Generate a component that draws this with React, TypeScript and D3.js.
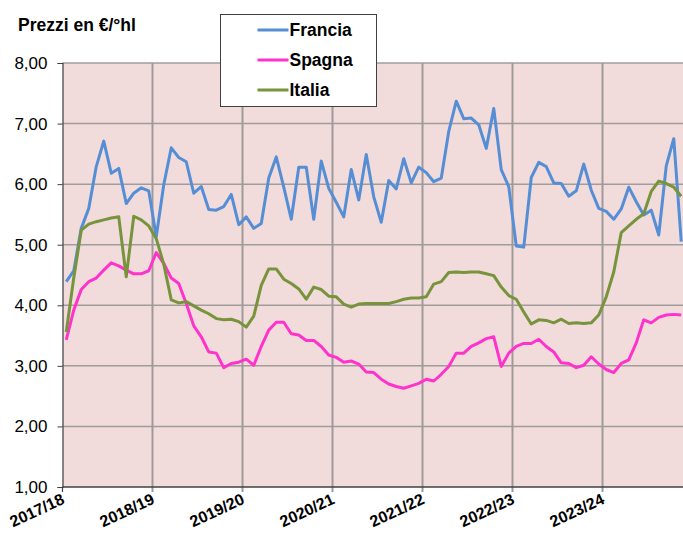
// @ts-nocheck
import React, { useEffect, useRef } from 'react';
import * as d3 from 'd3';

// stagioni (etichette asse x), 12 mesi ciascuna
const seasons = ['2017/18', '2018/19', '2019/20', '2020/21', '2021/22', '2022/23', '2023/24'];
const yTicks = [1, 2, 3, 4, 5, 6, 7, 8];

// prezzi mensili in €/°hl
const francia = [
  4.39, 4.57, 5.27, 5.6, 6.29, 6.71, 6.18, 6.26, 5.68, 5.85, 5.94, 5.89,
  5.13, 5.99, 6.6, 6.44, 6.37, 5.85, 5.96, 5.58, 5.57, 5.63, 5.83, 5.33,
  5.46, 5.27, 5.35, 6.1, 6.45, 5.95, 5.42, 6.28, 6.28, 5.42, 6.38, 5.93,
  5.7, 5.46, 6.24, 5.74, 6.49, 5.79, 5.37, 6.06, 5.92, 6.42, 6.02, 6.28,
  6.19, 6.04, 6.1, 6.87, 7.37, 7.08, 7.09, 6.98, 6.59, 7.25, 6.24, 5.96,
  4.98, 4.96, 6.11, 6.36, 6.29, 6.02, 6.01, 5.8, 5.89, 6.33, 5.9, 5.6,
  5.55, 5.42, 5.59, 5.95, 5.71, 5.49, 5.57, 5.16, 6.3, 6.75, 5.05,
];
const spagna = [
  3.43, 3.92, 4.26, 4.39, 4.45, 4.58, 4.7, 4.65, 4.58, 4.52, 4.52, 4.57,
  4.87, 4.69, 4.45, 4.36, 4.03, 3.66, 3.48, 3.23, 3.21, 2.97, 3.04, 3.06,
  3.11, 3.01, 3.32, 3.59, 3.72, 3.72, 3.53, 3.51, 3.42, 3.42, 3.32, 3.18,
  3.14, 3.06, 3.08, 3.03, 2.9, 2.89, 2.78, 2.7, 2.66, 2.63, 2.67, 2.71,
  2.78, 2.75, 2.86, 2.99, 3.21, 3.21, 3.32, 3.38, 3.45, 3.48, 2.99, 3.21,
  3.32, 3.37, 3.37, 3.44, 3.32, 3.23, 3.05, 3.04, 2.97, 3.01, 3.15, 3.03,
  2.94, 2.89, 3.04, 3.1, 3.38, 3.76, 3.71, 3.8, 3.84, 3.85, 3.84,
];
const italia = [
  3.56, 4.45, 5.24, 5.34, 5.38, 5.41, 5.44, 5.46, 4.47, 5.47, 5.41, 5.31,
  5.1, 4.68, 4.09, 4.04, 4.06, 3.99, 3.92, 3.86, 3.78, 3.76, 3.77, 3.73,
  3.64, 3.82, 4.33, 4.6, 4.6, 4.43, 4.36, 4.27, 4.1, 4.3, 4.26, 4.15,
  4.14, 4.02, 3.97, 4.02, 4.03, 4.03, 4.03, 4.03, 4.06, 4.1, 4.12, 4.12,
  4.14, 4.35, 4.39, 4.54, 4.55, 4.54, 4.55, 4.55, 4.52, 4.49, 4.3, 4.16,
  4.1, 3.89, 3.69, 3.76, 3.75, 3.71, 3.77, 3.7, 3.71, 3.7, 3.71, 3.84,
  4.14, 4.55, 5.2, 5.31, 5.42, 5.51, 5.88, 6.05, 6.01, 5.95, 5.8,
];

const series = [
  { name: 'Francia', values: francia, color: '#558ED5' },
  { name: 'Spagna', values: spagna, color: '#FF33CC' },
  { name: 'Italia', values: italia, color: '#77933C' },
];

const W = 683;
const H = 533;

const App: React.FC = () => {
  const ref = useRef<SVGSVGElement | null>(null);

  useEffect(() => {
    const svg = d3.select(ref.current);
    svg.selectAll('*').remove();

    const n = francia.length;
    const left = 62.5;
    const top = 63;
    const bottom = 487;
    const right = left + n * 7.5;

    const x = d3.scaleLinear().domain([0, n]).range([left, right]);
    const y = d3.scaleLinear().domain([1, 8]).range([bottom, top]);
    const font = 'Liberation Sans, Arial, sans-serif';

    // sfondo area del grafico
    svg.append('rect')
      .attr('x', left).attr('y', top)
      .attr('width', right - left).attr('height', bottom - top)
      .attr('fill', '#F2DCDB');

    // griglia orizzontale
    svg.append('g').selectAll('line')
      .data(yTicks.slice(1))
      .enter().append('line')
      .attr('x1', left).attr('x2', right)
      .attr('y1', (d) => y(d)).attr('y2', (d) => y(d))
      .attr('stroke', '#A09C9C').attr('stroke-width', 1.5);

    // griglia verticale (inizio stagioni)
    svg.append('g').selectAll('line')
      .data(d3.range(1, seasons.length + 1))
      .enter().append('line')
      .attr('x1', (d) => x(d * 12)).attr('x2', (d) => x(d * 12))
      .attr('y1', top).attr('y2', bottom + 5)
      .attr('stroke', '#9E9A9A').attr('stroke-width', 2);

    // linee dei prezzi
    const line = d3.line<number>()
      .x((d, i) => x(i + 0.5))
      .y((d) => y(d));

    series.forEach((s) => {
      svg.append('path')
        .datum(s.values)
        .attr('d', line)
        .attr('fill', 'none')
        .attr('stroke', s.color)
        .attr('stroke-width', 3)
        .attr('stroke-linejoin', 'round');
    });

    // asse y
    const yAxis = svg.append('g')
      .attr('transform', `translate(${left},0)`)
      .call(d3.axisLeft(y).tickValues(yTicks).tickSize(5).tickPadding(10)
        .tickFormat((d) => d3.format('.2f')(d).replace('.', ',')));
    yAxis.select('.domain').attr('stroke', '#404040').attr('stroke-width', 1.2);
    yAxis.selectAll('.tick line').attr('stroke', '#404040');
    yAxis.selectAll('text')
      .style('font-family', font).style('font-size', '17px').attr('fill', '#000');

    // asse x
    svg.append('line')
      .attr('x1', left).attr('x2', right)
      .attr('y1', bottom).attr('y2', bottom)
      .attr('stroke', '#404040').attr('stroke-width', 1.5);
    svg.append('line')
      .attr('x1', left).attr('x2', left)
      .attr('y1', bottom).attr('y2', bottom + 5)
      .attr('stroke', '#404040').attr('stroke-width', 1.2);

    svg.append('g').selectAll('text')
      .data(seasons)
      .enter().append('text')
      .attr('transform', (d, i) => `translate(${x(i * 12) + 3},${bottom + 16}) rotate(-25)`)
      .attr('text-anchor', 'end')
      .style('font-family', font).style('font-size', '16px').style('font-weight', 'bold')
      .attr('fill', '#000')
      .text((d) => d);

    // titolo asse y
    svg.append('text')
      .attr('x', 18).attr('y', 31)
      .style('font-family', font).style('font-size', '17.5px').style('font-weight', 'bold')
      .text('Prezzi en €/°hl');

    // legenda
    const lg = svg.append('g').attr('transform', 'translate(220.5,14.5)');
    lg.append('rect')
      .attr('width', 156).attr('height', 92)
      .attr('fill', '#fff').attr('stroke', '#404040').attr('stroke-width', 1);
    series.forEach((s, i) => {
      const cy = 15.5 + i * 30;
      lg.append('line')
        .attr('x1', 37).attr('x2', 68)
        .attr('y1', cy).attr('y2', cy)
        .attr('stroke', s.color).attr('stroke-width', 3);
      lg.append('text')
        .attr('x', 69).attr('y', cy + 6)
        .style('font-family', font).style('font-size', '17.5px').style('font-weight', 'bold')
        .text(s.name);
    });
  }, []);

  return (
    <svg
      ref={ref}
      width={W}
      height={H}
      style={{ position: 'absolute', left: 0, top: 0, background: '#fff' }}
    />
  );
};

export default App;
